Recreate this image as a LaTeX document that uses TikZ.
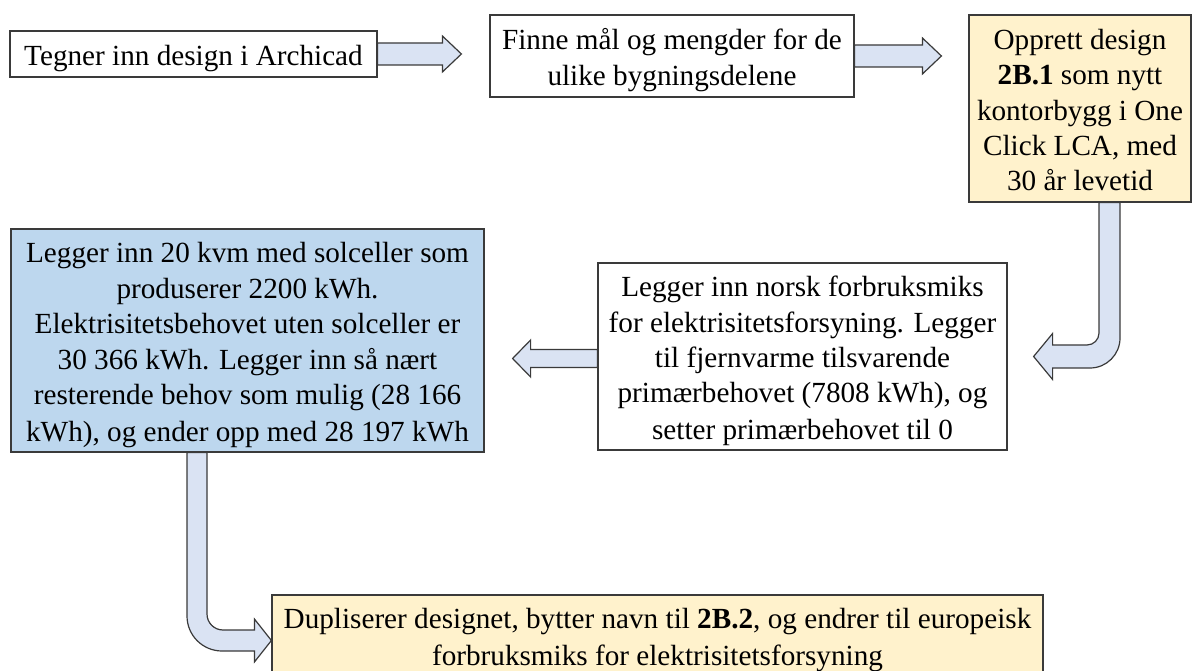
\documentclass[tikz,border=0pt]{standalone}
\usepackage{fontspec}
\setmainfont{Liberation Serif}
\usetikzlibrary{calc}
\definecolor{bordercol}{HTML}{3A3A3A}
\definecolor{arrowfill}{HTML}{DAE3F3}
\definecolor{yellowfill}{HTML}{FFF2CC}
\definecolor{bluefill}{HTML}{BDD7EE}
\newcommand{\ls}{\rule[-6pt]{0pt}{35.4pt}}
\tikzset{
  box/.style={draw=bordercol, line width=1.2pt, align=center, inner sep=0pt,
    font=\fontsize{29.2}{35.4}\selectfont},
  blk/.style={draw=bordercol, fill=arrowfill, line width=1.2pt, line join=miter}
}
\begin{document}
\begin{tikzpicture}[x=1pt,y=1pt]
\useasboundingbox (0,0) rectangle (1193,670);
\node[box, fill=white, minimum width=367pt, minimum height=46pt] (b1) at (193.5,616) {\ls Tegner inn design i Archicad\ls};
\node[box, fill=white, minimum width=364pt, minimum height=82pt] (b2) at (672,614) {\ls Finne mål og mengder for de\ls\\\ls ulike bygningsdelene\ls};
\node[box, fill=yellowfill, minimum width=222pt, minimum height=187pt] (b3) at (1080,561.5) {\ls Opprett design\\\textbf{2B.1} som nytt\\kontorbygg i One\\Click LCA, med\\30 år levetid\ls};
\node[box, fill=white, minimum width=409pt, minimum height=187pt] (b4) at (802.5,313.5) {\ls Legger inn norsk forbruksmiks\\for elektrisitetsforsyning. Legger\\til fjernvarme tilsvarende\\primærbehovet (7808 kWh), og\\setter primærbehovet til 0\ls};
\node[box, fill=bluefill, minimum width=473pt, minimum height=223pt] (b5) at (247.5,329.5) {\ls Legger inn 20 kvm med solceller som\\produserer 2200 kWh.\\Elektrisitetsbehovet uten solceller er\\30 366 kWh. Legger inn så nært\\resterende behov som mulig (28 166\\kWh), og ender opp med 28 197 kWh\ls};
\node[box, fill=yellowfill, minimum width=771pt, minimum height=81pt] (b6) at (657.5,34.5) {\ls Dupliserer designet, bytter navn til \textbf{2B.2}, og endrer til europeisk\\forbruksmiks for elektrisitetsforsyning\ls};
% arrow b1 -> b2
\draw[blk] let \p1=(b1.east), \p2=(b2.west) in
  (\x1,\y1+11pt) -- (\x2-47pt,\y1+11pt) -- (\x2-47pt,\y1+18pt) -- (\x2-28pt,\y1)
  -- (\x2-47pt,\y1-18pt) -- (\x2-47pt,\y1-11pt) -- (\x1,\y1-11pt) -- cycle;
% arrow b2 -> b3
\draw[blk] let \p1=(b2.east), \p2=(b3.west) in
  (\x1,\y1+11pt) -- (\x2-46pt,\y1+11pt) -- (\x2-46pt,\y1+18pt) -- (\x2-27pt,\y1)
  -- (\x2-46pt,\y1-18pt) -- (\x2-46pt,\y1-11pt) -- (\x1,\y1-11pt) -- cycle;
% arrow b4 -> b5
\draw[blk] let \p1=(b4.west), \p2=(b5.east) in
  (\x1,\y1+7pt) -- (\x2+46pt,\y1+7pt) -- (\x2+46pt,\y1+16.5pt) -- (\x2+28pt,\y1-2pt)
  -- (\x2+46pt,\y1-20.5pt) -- (\x2+46pt,\y1-11pt) -- (\x1,\y1-11pt) -- cycle;
% bent arrow b3 -> b4
\draw[blk] let \p1=(b3.south), \p2=(b4.east) in
  (\x1+19pt,\y1) -- (\x1+19pt,\y2+23.5pt) arc[start angle=0,end angle=-90,radius=12pt]
  -- (\x2+45pt,\y2+11.5pt) -- (\x2+45pt,\y2+23pt) -- (\x2+26pt,\y2)
  -- (\x2+45pt,\y2-23pt) -- (\x2+45pt,\y2-11.5pt) -- (\x1+10pt,\y2-11.5pt)
  arc[start angle=-90,end angle=0,radius=30pt] -- (\x1+40pt,\y1) -- cycle;
% bent arrow b5 -> b6
\draw[blk] let \p1=(b5.south), \p2=(b6.west) in
  (\x1-60.5pt,\y1) -- (\x1-60.5pt,\y2+19.5pt) arc[start angle=180,end angle=270,radius=35pt]
  -- (\x2-17pt,\y2-15.5pt) -- (\x2-17pt,\y2-26.5pt) -- (\x2,\y2-5pt)
  -- (\x2-17pt,\y2+16.5pt) -- (\x2-17pt,\y2+5.5pt) -- (\x1-24.5pt,\y2+5.5pt)
  arc[start angle=270,end angle=180,radius=16pt] -- (\x1-40.5pt,\y1) -- cycle;
\end{tikzpicture}
\end{document}
